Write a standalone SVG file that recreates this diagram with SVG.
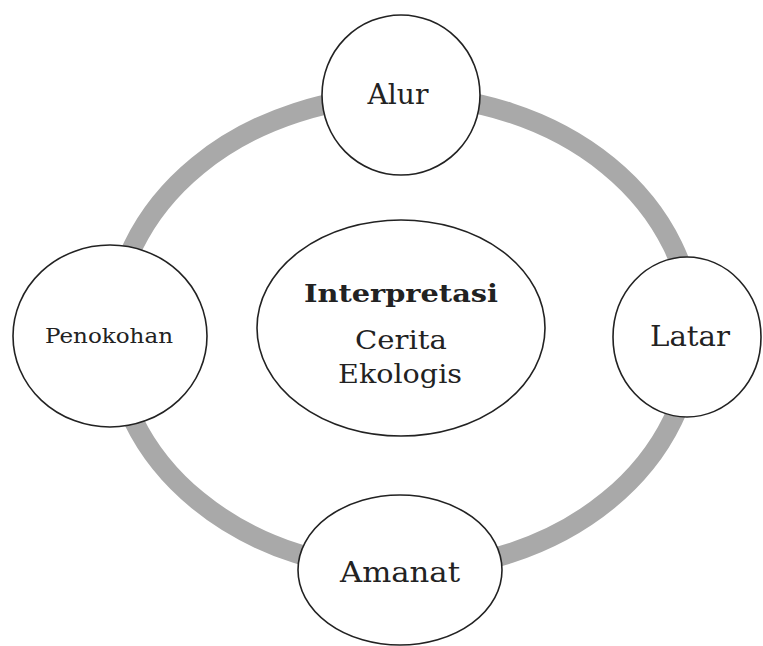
<svg xmlns="http://www.w3.org/2000/svg" width="763" height="646" viewBox="0 0 763 646">
<style>
.node{fill:#fff;stroke:#222;stroke-width:1.6}
.lbl{font-family:"DejaVu Serif","Liberation Serif",serif;fill:#222;text-anchor:middle}
</style>
<rect width="763" height="646" fill="#fff"/>
<g id="connectors">
<ellipse cx="403" cy="333" rx="290" ry="237" fill="none" stroke="#a9a9a9" stroke-width="20"/>
</g>
<g id="center">
<ellipse class="node" cx="401" cy="328" rx="144" ry="108"/>
<text class="lbl" x="401" y="302" font-size="25" font-weight="bold" textLength="194" lengthAdjust="spacingAndGlyphs">Interpretasi</text>
<text class="lbl" x="401" y="349" font-size="26" textLength="92" lengthAdjust="spacingAndGlyphs">Cerita</text>
<text class="lbl" x="400" y="383" font-size="26" textLength="124" lengthAdjust="spacingAndGlyphs">Ekologis</text>
</g>
<g id="alur">
<ellipse class="node" cx="401" cy="95" rx="79" ry="80"/>
<text class="lbl" x="398" y="104" font-size="28" textLength="61" lengthAdjust="spacingAndGlyphs">Alur</text>
</g>
<g id="penokohan">
<ellipse class="node" cx="110" cy="336" rx="97" ry="91"/>
<text class="lbl" x="109" y="343" font-size="21" textLength="128" lengthAdjust="spacingAndGlyphs">Penokohan</text>
</g>
<g id="latar">
<ellipse class="node" cx="687" cy="337" rx="74" ry="80"/>
<text class="lbl" x="690" y="346" font-size="28" textLength="80" lengthAdjust="spacingAndGlyphs">Latar</text>
</g>
<g id="amanat">
<ellipse class="node" cx="400" cy="570" rx="102" ry="75"/>
<text class="lbl" x="400" y="582" font-size="28" textLength="120" lengthAdjust="spacingAndGlyphs">Amanat</text>
</g>
</svg>
